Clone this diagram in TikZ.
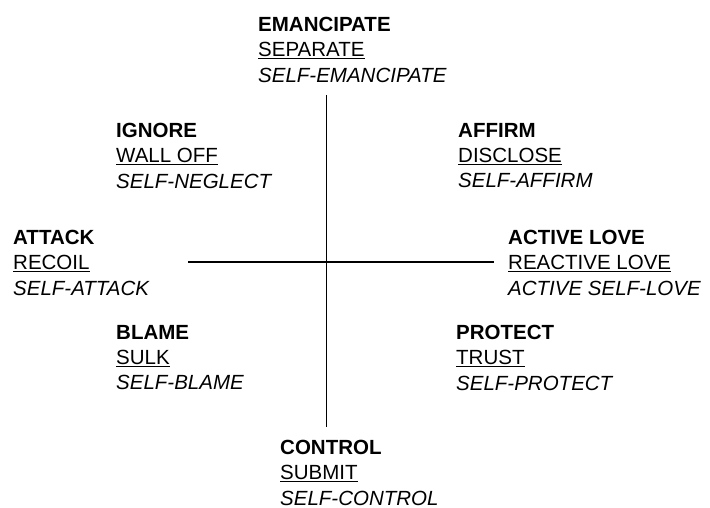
\documentclass[tikz,border=0pt]{standalone}
\usepackage{fontspec}
\setmainfont{Liberation Sans}

\begin{document}
\begin{tikzpicture}[
		x=1pt,
		y=1pt,
		quad/.style={
			anchor=north west,
			align=left,
			inner sep=0pt,
		},
		axis/.style={
			line width=1.8pt,
		},
		font=\fontsize{20.5}{25.3}\selectfont
		]
		\useasboundingbox (0,0) rectangle (710,508);
		% Draw the eight labels
		\foreach \name/\x/\y/\act/\react/\self in {
			emancipate/258/491/EMANCIPATE/SEPARATE/SELF-EMANCIPATE,
			ignore/116/385/IGNORE/WALL OFF/SELF-NEGLECT,
			affirm/458/385/AFFIRM/DISCLOSE/SELF-AFFIRM,
			attack/13/278/ATTACK/RECOIL/SELF-ATTACK,
			activelove/508/278/ACTIVE LOVE/REACTIVE LOVE/ACTIVE SELF-LOVE,
			blame/116/183/BLAME/SULK/SELF-BLAME,
			protect/456/183/PROTECT/TRUST/SELF-PROTECT,
			control/280/68/CONTROL/SUBMIT/SELF-CONTROL} {
			\node [quad] (\name) at (\x,\y) {\textbf{\act}\\\underline{\react}\\\textit{\self}};
		}
		% Draw the two axes
		\coordinate (up) at (326.5,413);
		\coordinate (down) at (326.5,81);
		\coordinate (west) at (188,246);
		\coordinate (east) at (494,246);
		\draw [axis] (up) -- (down);
		\draw [axis] (west) -- (east);
	\end{tikzpicture}
\end{document}
